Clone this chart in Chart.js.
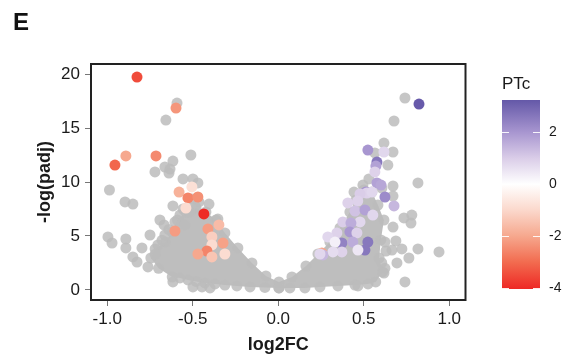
<!DOCTYPE html>
<html>
<head>
<meta charset="utf-8">
<script src="https://cdn.jsdelivr.net/npm/chart.js@4.4.1/dist/chart.umd.min.js"></script>
<style>
  html, body { margin: 0; padding: 0; background: #fff; }
  #wrap { position: relative; width: 568px; height: 356px; }
  #main { position: absolute; left: 0; top: 0; }
  #bar { position: absolute; left: 480px; top: 60px; }
</style>
</head>
<body>
<div id="wrap">
  <canvas id="main" width="568" height="356"></canvas>
  <canvas id="bar" width="88" height="240"></canvas>
</div>
<script>
// axis setup
const xTicks = [-1, -0.5, 0, 0.5, 1];
const yTicks = [0, 5, 10, 15, 20];
const xRange = [-1.095, 1.095];
const yRange = [-0.93, 20.93];
const ptcTicks = [2, 0, -2, -4];
const ptcRange = [-4.05, 3.25];

// genes that are not highlighted (outliers around the dense cloud)
const grayX = [-0.592, -0.657, -0.511, -0.616, -0.663, -0.633, -0.721, -0.639, -0.987, -0.557, -0.499, -0.47,
  -0.896, -0.85, -0.616, -0.405, -0.557, -0.487, -0.464, -0.505, -0.353, -0.692, -0.668, -0.996, -0.972,
  -0.891, -0.891, -0.75, -0.797, -0.85, -0.826, -0.762, -0.616, -0.499, -0.446, -0.399,
  -0.575, -0.516, -0.604, -0.546, -0.663, -0.704, -0.72, -0.68, -0.64,
  0.741, 0.677, 0.618, 0.671, 0.565, 0.641, 0.53, 0.671, 0.817, 0.443, 0.606, 0.671, 0.495, 0.781, 0.776,
  0.735, 0.671, 0.624, 0.688, 0.665, 0.723, 0.817, 0.94, 0.764, 0.63, 0.694, 0.624, 0.605, 0.618, 0.741, 0.466];
const grayY = [17.31, 15.74, 12.5, 11.94, 11.39, 11.2, 10.93, 10.83, 9.26, 10.28, 10.28, 9.91,
  8.15, 7.96, 7.78, 7.96, 7.5, 7.78, 8.15, 8.43, 6.57, 6.48, 6.02, 4.91, 4.35,
  4.72, 3.89, 5.09, 3.89, 3.06, 2.59, 2.13, 0.74, 0.28, 0.28, 0.19,
  6.94, 7.22, 6.3, 6.02, 5.09, 4.17, 3.3, 4.6, 5.6,
  17.78, 15.65, 13.61, 12.78, 12.69, 11.57, 10.28, 9.63, 9.91, 9.07, 9.44, 8.7, 9.72, 6.94, 6.2,
  6.67, 5.83, 4.44, 4.54, 3.7, 3.8, 3.8, 3.52, 2.96, 3.61, 2.5, 2.0, 2.53, 1.57, 0.74, 0.37];

// outline of the dense cloud of non-significant genes
const coreX = [0.004, -0.078, -0.165, -0.242, -0.312, -0.37, -0.429, -0.481, -0.528, -0.575, -0.62, -0.7,
  -0.745, -0.72, -0.66, -0.622, -0.59, -0.54, -0.481, -0.423, -0.364, -0.312, -0.236, -0.154, -0.072,
  0.004, 0.08, 0.162, 0.232, 0.302, 0.361, 0.419, 0.454, 0.501, 0.548, 0.583, 0.618, 0.6, 0.59, 0.61,
  0.57, 0.525, 0.449, 0.349, 0.244, 0.156, 0.068, 0.004];
const coreY = [0.19, 0.23, 0.28, 0.37, 0.46, 0.56, 0.65, 0.79, 0.93, 1.11, 1.2, 2.0,
  2.96, 3.8, 4.44, 5.37, 6.48, 7.22, 7.59, 7.22, 6.48, 5.28, 3.89, 2.5, 1.3,
  0.74, 1.2, 2.22, 3.33, 4.44, 5.74, 7.22, 8.33, 9.26, 9.07, 7.87, 6.48, 4.63, 2.96, 1.67,
  0.74, 0.56, 0.46, 0.37, 0.28, 0.19, 0.19, 0.19];

// highlighted genes, coloured by PTc
const hiX = [-0.826, -0.598, -0.955, -0.891, -0.715, -0.58, -0.505, -0.528, -0.47, -0.54, -0.435,
  -0.604, -0.411, -0.347, -0.388, -0.323, -0.388, -0.417, -0.47, -0.388, -0.312, 0.255,
  0.823, 0.524, 0.618, 0.577, 0.571, 0.565, 0.577, 0.601, 0.624, 0.677, 0.512, 0.518, 0.478, 0.548,
  0.407, 0.465, 0.449, 0.507, 0.553, 0.478, 0.378, 0.425, 0.419, 0.46, 0.343, 0.29, 0.372, 0.332,
  0.436, 0.524, 0.507, 0.466, 0.372, 0.32, 0.261, 0.244];
const hiY = [19.72, 16.85, 11.57, 12.41, 12.41, 9.07, 9.54, 8.52, 8.61, 7.59, 7.04,
  5.46, 5.65, 6.02, 4.91, 4.35, 4.17, 3.61, 3.33, 3.06, 3.33, 3.43,
  17.22, 12.96, 12.78, 11.85, 11.48, 10.93, 9.91, 9.72, 8.61, 7.78, 9.07, 8.98, 8.89, 9.07,
  8.06, 8.24, 7.31, 7.41, 6.94, 6.3, 6.3, 6.2, 5.37, 5.28, 5.28, 4.91, 4.35, 4.44,
  4.44, 4.44, 3.7, 3.7, 3.52, 3.52, 3.24, 3.33];
const hiPTc = [-3.5, -2.3, -3.1, -2.0, -2.5, -1.8, -0.8, -2.6, -2.4, -0.9, -4.0,
  -2.2, -2.2, -1.6, -1.2, -2.1, -0.9, -2.6, -2.0, -1.4, -0.9, -2.0,
  3.2, 2.0, 0.8, 2.6, 1.8, 0.9, 1.8, 1.7, 2.2, 1.4, 2.0, 0.9, 1.0, 0.8,
  0.9, 0.9, 1.2, 1.8, 0.8, 0.8, 1.0, 1.6, 2.0, 0.9, 0.9, 0.8, 2.4, 0.3,
  1.6, 2.6, 2.6, 0.5, 0.9, 0.7, 1.4, 0.8];

// colour scale
const ptcStops = [-4.05, -3, -2, -1, 0, 1, 2, 3.25];
const ptcColors = [[238, 40, 36], [242, 108, 80], [246, 168, 142], [251, 216, 204], [255, 255, 255],
  [218, 205, 232], [168, 150, 208], [100, 88, 168]];

function rgb(c) { return 'rgb(' + c.map(Math.round).join(',') + ')'; }

function ptcColor(v) {
    if (v <= ptcStops[0]) return rgb(ptcColors[0]);
    for (let i = 1; i < ptcStops.length; i++) {
        if (v <= ptcStops[i]) {
            const t = (v - ptcStops[i - 1]) / (ptcStops[i] - ptcStops[i - 1]);
            const a = ptcColors[i - 1], b = ptcColors[i];
            return rgb(a.map((c, k) => c + (b[k] - c) * t));
        }
    }
    return rgb(ptcColors[ptcColors.length - 1]);
}

const zip = (xs, ys) => xs.map((x, i) => ({ x: x, y: ys[i] }));

Chart.defaults.font.family = '"Liberation Sans", Arial, sans-serif';
Chart.defaults.color = '#1a1a1a';

const GRAY_PT = 'rgba(188,188,188,0.85)';

const frame = {
    id: 'frame',
    afterDatasetsDraw(chart) {
        const { ctx, chartArea: a } = chart;
        ctx.save();
        ctx.strokeStyle = '#222';
        ctx.lineWidth = 2;
        ctx.strokeRect(a.left, a.top, a.right - a.left, a.bottom - a.top);
        ctx.restore();
    }
};

const panelLetter = {
    id: 'panelLetter',
    afterDraw(chart) {
        const ctx = chart.ctx;
        ctx.save();
        ctx.font = 'bold 24px "Liberation Sans", Arial, sans-serif';
        ctx.fillStyle = '#111';
        ctx.textBaseline = 'alphabetic';
        ctx.fillText('E', 13, 30);
        ctx.restore();
    }
};

new Chart(document.getElementById('main'), {
    type: 'scatter',
    data: {
        datasets: [
            {
                label: 'highlighted',
                data: zip(hiX, hiY),
                pointBackgroundColor: hiPTc.map(ptcColor),
                pointBorderWidth: 0,
                pointRadius: 5.5,
                order: 1
            },
            {
                label: 'other',
                data: zip(grayX, grayY),
                pointBackgroundColor: GRAY_PT,
                pointBorderWidth: 0,
                pointRadius: 5.5,
                order: 2
            },
            {
                label: 'cloud',
                type: 'line',
                data: zip(coreX, coreY),
                fill: 'shape',
                backgroundColor: 'rgb(190,190,190)',
                borderWidth: 0,
                borderColor: 'rgba(0,0,0,0)',
                pointBackgroundColor: GRAY_PT,
                pointBorderWidth: 0,
                pointRadius: 5.5,
                tension: 0,
                order: 3
            }
        ]
    },
    options: {
        responsive: false,
        animation: false,
        layout: { padding: { left: 0, right: 102.5, top: 64, bottom: 0 } },
        plugins: { legend: { display: false }, tooltip: { enabled: false } },
        scales: {
            x: {
                type: 'linear',
                min: xRange[0],
                max: xRange[1],
                afterBuildTicks: s => { s.ticks = xTicks.map(v => ({ value: v })); },
                afterFit: s => { s.height = 56; },
                ticks: { callback: v => v.toFixed(1), font: { size: 17 }, color: '#1a1a1a', padding: 3, maxRotation: 0, autoSkip: false },
                grid: { drawOnChartArea: false, drawTicks: true, tickLength: 6, color: '#777' },
                border: { display: false },
                title: { display: true, text: 'log2FC', font: { size: 18, weight: 'bold' }, color: '#1a1a1a', padding: { top: 0, bottom: 0 } }
            },
            y: {
                type: 'linear',
                min: yRange[0],
                max: yRange[1],
                afterBuildTicks: s => { s.ticks = yTicks.map(v => ({ value: v })); },
                afterFit: s => { s.width = 91; },
                ticks: { font: { size: 17 }, color: '#1a1a1a', padding: 5, autoSkip: false },
                grid: { drawOnChartArea: false, drawTicks: true, tickLength: 6, color: '#777' },
                border: { display: false },
                title: { display: true, text: '-log(padj)', font: { size: 18, weight: 'bold' }, color: '#1a1a1a', padding: { top: 34, bottom: 0 } }
            }
        }
    },
    plugins: [frame, panelLetter]
});

// colour bar legend
const barTicks = {
    id: 'barTicks',
    afterDatasetsDraw(chart) {
        const { ctx, chartArea: a } = chart;
        const y = chart.scales.y;
        ctx.save();
        ctx.strokeStyle = 'rgba(255,255,255,0.9)';
        ctx.lineWidth = 1;
        ptcTicks.forEach(v => {
            const py = Math.round(y.getPixelForValue(v)) + 0.5;
            ctx.beginPath();
            ctx.moveTo(a.left, py); ctx.lineTo(a.left + 7, py);
            ctx.moveTo(a.right - 7, py); ctx.lineTo(a.right, py);
            ctx.stroke();
        });
        ctx.restore();
    }
};

new Chart(document.getElementById('bar'), {
    type: 'bar',
    data: {
        labels: ['PTc'],
        datasets: [{
            data: [ptcRange],
            barPercentage: 1,
            categoryPercentage: 1,
            borderWidth: 0,
            backgroundColor: c => {
                const chart = c.chart;
                if (!chart.chartArea) return null;
                const y = chart.scales.y;
                const g = chart.ctx.createLinearGradient(0, y.getPixelForValue(ptcRange[0]), 0, y.getPixelForValue(ptcRange[1]));
                ptcStops.forEach((v, i) => g.addColorStop((v - ptcRange[0]) / (ptcRange[1] - ptcRange[0]), rgb(ptcColors[i])));
                return g;
            }
        }]
    },
    options: {
        responsive: false,
        animation: false,
        layout: { padding: { left: 22, right: 0, top: 14, bottom: 11 } },
        plugins: {
            legend: { display: false },
            tooltip: { enabled: false },
            title: { display: true, text: 'PTc', align: 'start', font: { size: 17, weight: 'normal' }, color: '#1a1a1a', padding: { top: 0, bottom: 5.6 } }
        },
        scales: {
            x: { display: false },
            y: {
                position: 'right',
                min: ptcRange[0],
                max: ptcRange[1],
                afterBuildTicks: s => { s.ticks = ptcTicks.map(v => ({ value: v })); },
                afterFit: s => { s.width = 28; s.paddingTop = 0; s.paddingBottom = 0; },
                ticks: { font: { size: 14 }, color: '#1a1a1a', padding: 9 },
                grid: { display: false, drawTicks: false },
                border: { display: false }
            }
        }
    },
    plugins: [barTicks]
});
</script>
</body>
</html>
